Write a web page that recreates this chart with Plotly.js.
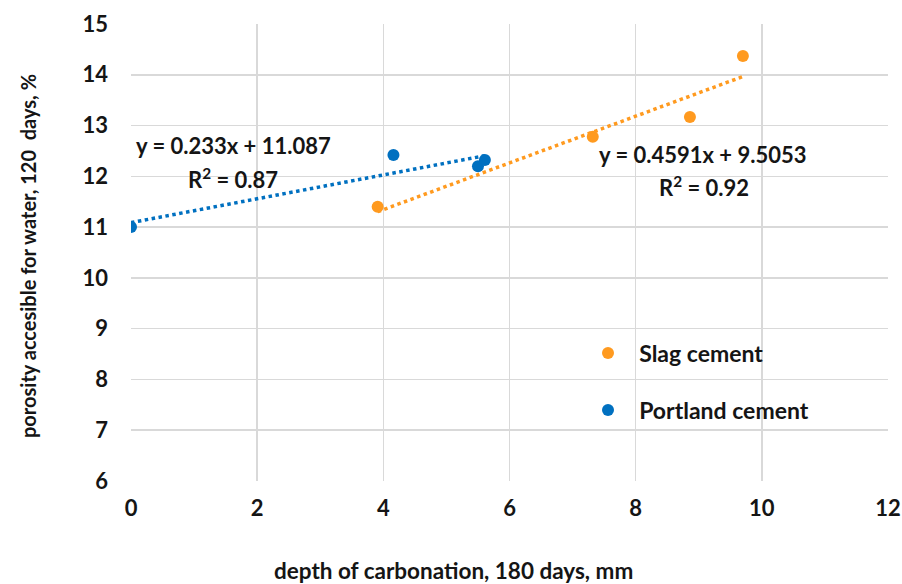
<!DOCTYPE html>
<html><head><meta charset="utf-8">
<script src="https://cdn.plot.ly/plotly-3.0.1.min.js"></script>
<style>html,body{margin:0;padding:0;background:#fff}#chart{width:902px;height:584px}</style>
</head><body><div id="chart"></div>
<script>
const slagX = [3.91, 7.32, 8.86, 9.70];
const slagY = [11.40, 12.78, 13.17, 14.37];
const portX = [0, 4.16, 5.50, 5.61];
const portY = [11.00, 12.42, 12.20, 12.32];
const seriesNames = ["Slag cement", "Portland cement"];
const eqSlag = ["y = 0.4591x + 9.5053", "R<sup>2</sup> = 0.92"];
const eqPort = ["y = 0.233x + 11.087", "R<sup>2</sup> = 0.87"];
const xTicks = [0, 2, 4, 6, 8, 10, 12];
const yTicks = [6, 7, 8, 9, 10, 11, 12, 13, 14, 15];
const xTitle = "depth of carbonation, 180 days, mm";
const yTitle = "porosity accesible for water, 120  days, %";

function fit(xs, ys) {
  const n = xs.length;
  const mx = xs.reduce((a, b) => a + b, 0) / n;
  const my = ys.reduce((a, b) => a + b, 0) / n;
  let sxy = 0, sxx = 0;
  for (let i = 0; i < n; i++) { sxy += (xs[i] - mx) * (ys[i] - my); sxx += (xs[i] - mx) ** 2; }
  const m = sxy / sxx, b = my - m * mx;
  const x0 = Math.min(...xs), x1 = Math.max(...xs);
  return { x: [x0, x1], y: [m * x0 + b, m * x1 + b] };
}
const orange = "#FF9A1F", blue = "#0070C0";
const fs = fit(slagX, slagY), fp = fit(portX, portY);
const font = "Lato, 'Open Sans', sans-serif";
const ink = "#151515";
const NB = "\u00A0\u00A0";

const traces = [
  { x: fp.x, y: fp.y, mode: "lines", line: { color: blue, width: 3.5, dash: "dot" }, showlegend: false, hoverinfo: "skip" },
  { x: fs.x, y: fs.y, mode: "lines", line: { color: orange, width: 3.5, dash: "dot" }, showlegend: false, hoverinfo: "skip" },
  { x: slagX, y: slagY, mode: "markers", name: NB + seriesNames[0], marker: { color: orange, size: 12 }, legend: "legend" },
  { x: portX, y: portY, mode: "markers", name: NB + seriesNames[1], marker: { color: blue, size: 12 }, legend: "legend2" }
];

const W = 757, H = 457, L = 131, B = 481;
const px = v => (v - L) / W, py = v => (B - v) / H;
const annFont = { family: font, size: 22, color: ink, weight: "bold" };
const ann = (x, y, t, extra) => Object.assign({ xref: "paper", yref: "paper", x: px(x), y: py(y), text: t, showarrow: false, font: annFont, xanchor: "center", yanchor: "middle" }, extra || {});
const legFont = { family: font, size: 23, color: ink, weight: "bold" };

const layout = {
  width: 902, height: 584,
  margin: { l: 131, r: 14, t: 24, b: 103 },
  paper_bgcolor: "#fff", plot_bgcolor: "#fff",
  font: { family: font, color: ink },
  xaxis: {
    range: [0, 12], tickvals: xTicks, ticktext: xTicks.map(String),
    showgrid: true, gridcolor: "#d9d9d9", gridwidth: 1.5, zeroline: false,
    showline: false, ticks: "", ticklabelstandoff: 12,
    tickfont: { family: font, size: 22, color: ink, weight: "bold" }
  },
  yaxis: {
    range: [6, 15], tickvals: yTicks, ticktext: yTicks.map(String),
    showgrid: true, gridcolor: "#d9d9d9", gridwidth: 1.5, zeroline: false,
    showline: false, ticks: "", ticklabelstandoff: 22,
    tickfont: { family: font, size: 22, color: ink, weight: "bold" }
  },
  legend: {
    x: px(588), y: py(353), xanchor: "left", yanchor: "middle", bgcolor: "rgba(0,0,0,0)",
    font: legFont, itemwidth: 30
  },
  legend2: {
    x: px(588), y: py(410), xanchor: "left", yanchor: "middle", bgcolor: "rgba(0,0,0,0)",
    font: legFont, itemwidth: 30
  },
  annotations: [
    ann(233, 145, eqPort[0]),
    ann(233, 178, eqPort[1]),
    ann(703, 154, eqSlag[0]),
    ann(704, 186, eqSlag[1]),
    ann(453, 570, xTitle, { font: { family: font, size: 22.5, color: ink, weight: "bold" } }),
    ann(28, 256, yTitle, { textangle: -90, font: { family: font, size: 20, color: ink, weight: "bold" } })
  ]
};
Plotly.newPlot("chart", traces, layout, { displayModeBar: false, staticPlot: true });
</script></body></html>
